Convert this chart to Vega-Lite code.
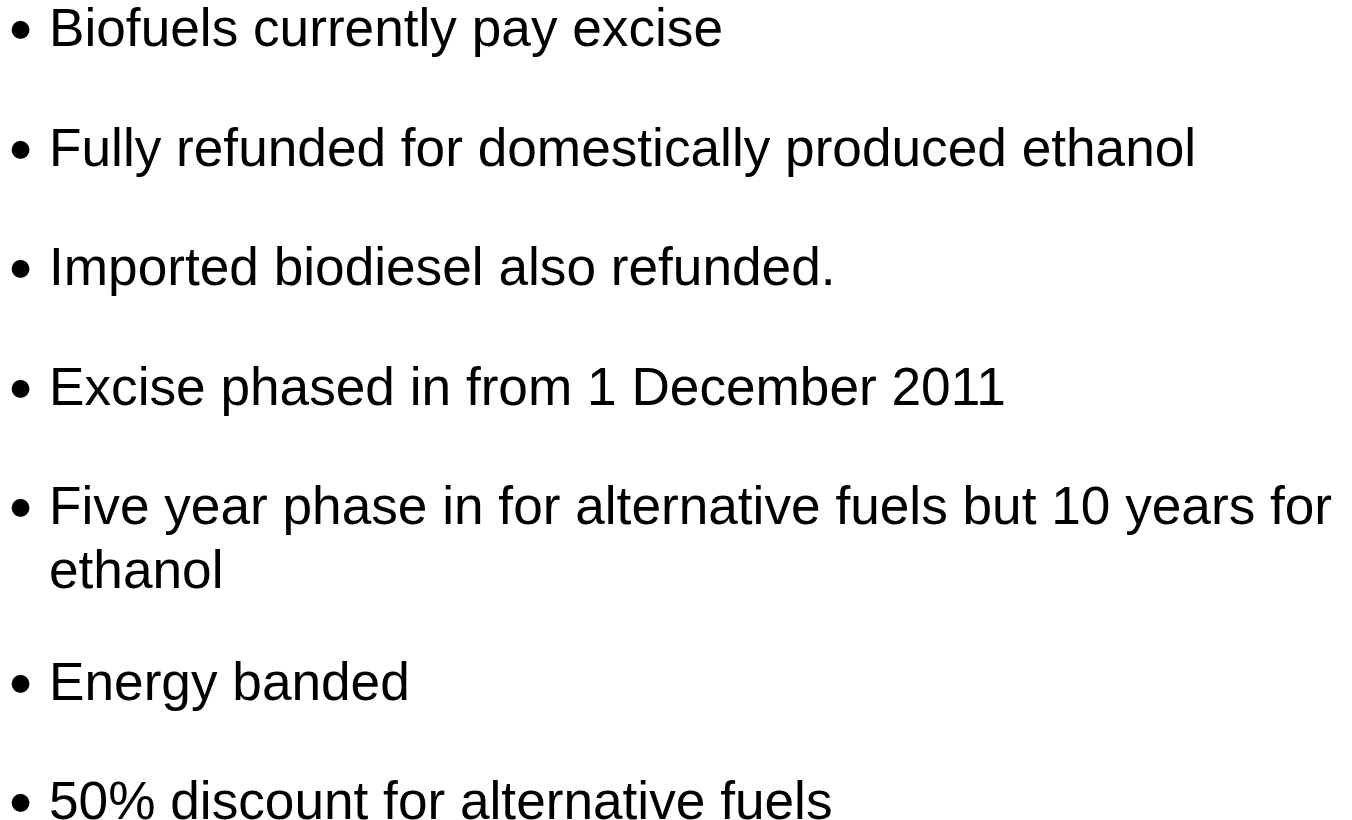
{
  "$schema": "https://vega.github.io/schema/vega-lite/v6.json",
  "width": 1352,
  "height": 820,
  "padding": 0,
  "autosize": {"type": "none"},
  "background": "white",
  "config": {"view": {"stroke": null}},
  "data": {
    "values": [
      {"item": 1, "text": "Biofuels currently pay excise"},
      {"item": 2, "text": "Fully refunded for domestically produced ethanol"},
      {"item": 3, "text": "Imported biodiesel also refunded."},
      {"item": 4, "text": "Excise phased in from 1 December 2011"},
      {"item": 5, "text": "Five year phase in for alternative fuels but 10 years for\nethanol"},
      {"item": 6, "text": "Energy banded"},
      {"item": 7, "text": "50% discount for alternative fuels"}
    ]
  },
  "encoding": {
    "y": {"field": "item", "type": "quantitative", "scale": {"domain": [1, 7], "range": [46, 763]}, "axis": null}
  },
  "layer": [
    {
      "transform": [{"filter": "datum.item <= 5"}],
      "mark": {"type": "text", "align": "left", "baseline": "alphabetic", "font": "Liberation Sans", "fontSize": 53.2, "lineBreak": "\n", "lineHeight": 64, "color": "black", "x": 49},
      "encoding": {"text": {"field": "text"}}
    },
    {
      "transform": [{"filter": "datum.item > 5"}],
      "mark": {"type": "text", "align": "left", "baseline": "alphabetic", "font": "Liberation Sans", "fontSize": 53.2, "lineBreak": "\n", "lineHeight": 64, "color": "black", "x": 49, "dy": 56},
      "encoding": {"text": {"field": "text"}}
    },
    {
      "transform": [{"filter": "datum.item <= 5"}],
      "mark": {"type": "text", "align": "center", "baseline": "alphabetic", "font": "Liberation Sans", "fontSize": 66, "color": "black", "x": 20.5, "dy": 6},
      "encoding": {"text": {"value": "•"}}
    },
    {
      "transform": [{"filter": "datum.item > 5"}],
      "mark": {"type": "text", "align": "center", "baseline": "alphabetic", "font": "Liberation Sans", "fontSize": 66, "color": "black", "x": 20.5, "dy": 62},
      "encoding": {"text": {"value": "•"}}
    }
  ]
}
